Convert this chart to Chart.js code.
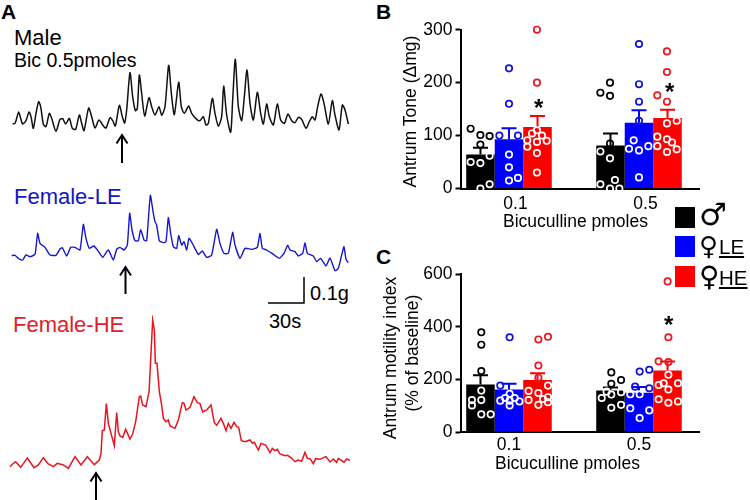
<!DOCTYPE html>
<html>
<head>
<meta charset="utf-8">
<script src="https://cdn.jsdelivr.net/npm/chart.js@4/dist/chart.umd.min.js"></script>
<style>
    body { margin: 0; background: #fff; font-family: "Liberation Sans", Arial, sans-serif; }
    #page { position: relative; width: 750px; height: 500px; overflow: hidden; }
    #page canvas, .box { position: absolute; }
    .t { position: absolute; line-height: 1; white-space: nowrap; color: #000; }
    .panel { font-size: 21px; font-weight: bold; }
    .trace { font-size: 22px; }
    .axis { font-size: 17.5px; }
    .star { font-size: 24px; font-weight: bold; }
    .sym { font-family: "DejaVu Sans"; }
    .group { font-size: 20.5px; text-decoration: underline; text-decoration-thickness: 1.5px; text-underline-offset: 2px; }
    svg { position: absolute; left: 0; top: 0; }
</style>
</head>
<body>
<div id="page">
    <div class="t panel" style="left:1px;top:1px">A</div>
    <div class="t panel" style="left:376px;top:1px">B</div>
    <div class="t panel" style="left:376px;top:246px">C</div>

    <div class="t trace" style="left:14px;top:27px">Male</div>
    <div class="t" style="left:14px;top:51px;font-size:19.5px">Bic 0.5pmoles</div>
    <div class="t trace" style="left:14px;top:186px;color:#1414c8">Female-LE</div>
    <div class="t trace" style="left:13px;top:314px;color:#e0202c">Female-HE</div>
    <div class="t" style="left:310px;top:283px;font-size:20px">0.1g</div>
    <div class="t" style="left:269px;top:311px;font-size:20px">30s</div>

    <canvas id="maleTrace" style="left:0;top:50px" width="370" height="90"></canvas>
    <canvas id="lowTrace" style="left:0;top:190px" width="370" height="87"></canvas>
    <canvas id="highTrace" style="left:0;top:315px" width="370" height="160"></canvas>

    <svg width="750" height="500" fill="none" stroke="#000" stroke-width="2">
        <path d="M122 135V163M116.5 143.5L122 135L127.5 143.5"/>
        <path d="M125.5 267V294M120 275.5L125.5 267L131 275.5"/>
        <path d="M96 473V500M90.5 481.5L96 473L101.5 481.5"/>
        <path d="M268 303H304V277" stroke-width="1.5"/>
    </svg>

    <canvas id="toneChart" style="left:400px;top:10px" width="305" height="210"></canvas>
    <canvas id="motilityChart" style="left:380px;top:255px" width="325" height="215"></canvas>

    <div class="t axis" style="left:503px;top:213px">Bicuculline pmoles</div>
    <div class="t axis" style="left:495px;top:455px">Bicuculline pmoles</div>

    <div class="t star" style="left:534px;top:96px">*</div>
    <div class="t star" style="left:665px;top:80px">*</div>
    <div class="t star" style="left:664px;top:313px">*</div>

    <div class="box" style="left:674.5px;top:207px;width:20.5px;height:20.5px;background:#000"></div>
    <div class="box" style="left:674.5px;top:236px;width:20.5px;height:20.5px;background:#00f"></div>
    <div class="box" style="left:674.5px;top:266px;width:20.5px;height:20.5px;background:#f00"></div>
    <div class="t sym" style="left:699px;top:199px;font-size:31px">♂</div>
    <div class="t sym" style="left:699px;top:233px;font-size:26px">♀</div>
    <div class="t sym" style="left:699px;top:263px;font-size:28px">♀</div>
    <div class="t group" style="left:719px;top:236.5px">LE</div>
    <div class="t group" style="left:719px;top:267.5px">HE</div>
</div>

<script>
// panel A, recorder traces (time and tension in arbitrary recording units)
const maleTime = [38,45,50,56,62,68,78,87,93,100,108,116,122,130,138,148,155,168,180,188,197,208,217,227,238,245,252,266,275,285,297,310,318,330,338,346,358,367,374,380,390,398,406,412,418,425,434,447,455,465,477,485,495,506,514,523,536,544,553,566,575,590,600,610,618,625,637,645,655,665,671,680,692,698,706,715,725,733,741,750,760,772,782,790,800,808,820,832,842,853,864,875,885,895,905,918,928,937,945,953,963,972,985,997,1005,1017,1027,1035,1045];
const maleTension = [28,30,45,64,45,28,38,64,50,15,60,95,80,28,20,60,45,6,42,44,28,45,15,12,55,30,8,76,50,16,40,22,16,47,38,22,84,50,31,70,182,110,68,75,175,120,52,107,80,55,80,54,80,204,120,56,153,80,60,82,60,42,38,50,25,30,105,60,22,50,142,55,3,100,222,80,38,110,190,90,40,123,60,28,88,50,25,88,40,30,58,38,32,48,42,15,35,50,40,80,118,90,28,98,55,10,85,70,28];

const lowTime = [35,45,58,68,78,90,105,113,120,135,150,168,180,187,200,212,225,240,250,258,268,282,298,308,325,340,350,360,372,382,389,396,405,415,422,432,440,451,460,465,470,478,490,498,505,512,520,530,536,545,552,560,567,578,595,607,620,635,650,660,672,685,698,705,720,735,755,772,780,787,800,820,838,852,863,870,885,895,908,915,922,940,950,962,978,990,1005,1015,1025,1032,1038,1045];
const lowTension = [53,54,43,40,55,50,57,120,90,78,55,54,73,77,52,78,78,70,147,105,75,82,62,48,70,40,72,78,70,85,180,130,98,98,132,100,98,234,180,155,145,98,92,95,167,120,80,75,113,85,95,70,105,88,57,67,48,55,132,90,60,60,123,85,45,75,72,78,120,75,70,57,45,60,84,70,65,52,60,92,60,52,35,45,22,46,8,15,55,80,42,32];

const highTime = [30,38,47,62,82,102,115,130,145,160,172,190,205,225,243,262,283,298,303,307,313,319,325,333,343,350,355,360,368,377,390,398,407,418,422,428,438,444,447,452,458,463,466,471,478,485,490,498,505,510,525,535,547,552,558,570,582,592,600,608,620,633,643,650,663,670,678,685,693,702,710,716,724,735,750,758,763,775,783,797,810,817,825,832,840,855,863,875,885,895,905,915,922,930,940,947,960,972,978,990,1000,1010,1015,1025,1032,1040,1050];
const highTension = [10,18,25,8,36,7,15,37,18,10,20,15,5,40,15,40,16,30,50,118,120,199,140,110,73,172,115,102,98,122,93,108,145,220,222,195,190,220,232,330,450,420,320,320,235,195,155,145,150,132,125,150,202,200,180,188,220,202,199,174,180,195,142,134,155,140,118,140,125,143,130,128,88,85,90,80,83,60,80,75,52,65,58,62,48,43,44,35,25,30,26,53,35,34,19,34,32,38,40,24,33,23,35,28,23,33,29];

// panels B and C
const doses = ['0.1', '0.5'];

const toneMale = [64, 81];
const toneLow = [93, 124];
const toneHigh = [116, 133];
const toneMaleErr = [13, 23];
const toneLowErr = [21, 24];
const toneHighErr = [21, 16];

const motilityMale = [181, 158];
const motilityLow = [162, 150];
const motilityHigh = [198, 234];
const motilityMaleErr = [35, 12];
const motilityLowErr = [22, 22];
const motilityHighErr = [26, 34];

// individual animals
const toneMaleA = [113,101,99,83,62,50,48,8,0];
const toneMaleB = [200,181,175,85,70,57,8,16,0,0];
const toneLowA = [227,160,100,100,64,40,15,20];
const toneLowB = [273,197,164,128,91,75,72,80,21];
const toneHighA = [300,200,110,104,100,91,88,90,79,67,30];
const toneHighB = [259,220,176,164,123,128,98,93,87,80,69,74];

const motilityMaleA = [379,332,232,158,122,122,102,68,68];
const motilityMaleB = [227,198,184,154,152,143,130,104,93];
const motilityLowA = [360,177,146,130,130,120,120,117,102];
const motilityLowB = [237,230,173,167,144,144,91,83,54];
const motilityHighA = [362,352,253,207,177,157,149,133,122,126,104,114];
const motilityHighB = [572,360,269,266,218,186,186,179,162,125,112,117];

// sideways spread of the dots, in group widths
const toneMaleSpreadA = [-0.295,-0.22,-0.149,-0.22,-0.149,-0.295,-0.22,-0.149,-0.22];
const toneMaleSpreadB = [-0.223,-0.297,-0.223,-0.223,-0.297,-0.223,-0.297,-0.185,-0.223,-0.151];
const toneLowSpreadA = [0,0,-0.074,0.069,0,0,0,0.069];
const toneLowSpreadB = [0,0,0,0,-0.041,-0.077,0,0.072,0];
const toneHighSpreadA = [0.215,0.215,0.215,0.177,0.254,0.141,0.215,0.29,0.141,0.215,0.215];
const toneHighSpreadB = [0.215,0.215,0.141,0.215,0.215,0.29,0.141,0.215,0.254,0.141,0.215,0.29];
const motilityMaleSpreadA = [-0.213,-0.213,-0.213,-0.213,-0.285,-0.213,-0.285,-0.213,-0.141];
const motilityMaleSpreadB = [-0.213,-0.138,-0.213,-0.249,-0.138,-0.213,-0.287,-0.138,-0.213];
const motilityLowSpreadA = [0.005,-0.067,0.005,-0.03,0.044,-0.067,0.005,0.08,0.005];
const motilityLowSpreadB = [0.079,0.005,-0.03,0.079,-0.067,0.005,-0.067,0.079,0.005];
const motilityHighSpreadA = [0.3,0.226,0.226,0.226,0.3,0.151,0.226,0.3,0.151,0.262,0.226,0.3];
const motilityHighSpreadB = [0.22,0.226,0.151,0.226,0.226,0.3,0.19,0.151,0.226,0.151,0.226,0.3];

const BLACK = '#000000';
const BAR_BLUE = '#0000ff';
const BAR_RED = '#ff0000';
const DOT_BLUE = '#1212d8';
const DOT_RED = '#e8181f';
const FONT = '"Liberation Sans", Arial, sans-serif';

Chart.defaults.animation = false;
Chart.defaults.responsive = false;
Chart.defaults.font.family = FONT;
Chart.defaults.plugins.legend.display = false;
Chart.defaults.plugins.tooltip.enabled = false;

const drawTrace = (id, time, tension, color, yMin, yMax, lineWidth, smooth) => {
    new Chart(document.getElementById(id), {
        type: 'line',
        data: {
            datasets: [{
                data: time.map((t, i) => ({ x: t, y: tension[i] })),
                borderColor: color,
                borderWidth: lineWidth,
                pointRadius: 0,
                tension: smooth
            }]
        },
        options: {
            layout: { padding: 0 },
            scales: {
                x: { type: 'linear', display: false, min: 0, max: 1110 },
                y: { display: false, min: yMin, max: yMax }
            }
        }
    });
};

drawTrace('maleTrace', maleTime, maleTension, '#111111', -20, 250, 1.5, 0.25);
drawTrace('lowTrace', lowTime, lowTension, '#1616d0', -11, 250, 1.4, 0.15);
drawTrace('highTrace', highTime, highTension, '#e8141e', -15, 465, 1.5, 0);

// error bars go up only, above the bar and under the dots
const errorBars = {
    id: 'errorBars',
    afterDatasetDraw(chart, args) {
        const dataset = args.meta.controller.getDataset();
        if (!dataset.errs) return;
        const { ctx, scales } = chart;
        ctx.save();
        ctx.strokeStyle = dataset.backgroundColor;
        ctx.lineWidth = 2;
        args.meta.data.forEach((bar, i) => {
            const top = scales.y.getPixelForValue(dataset.data[i].y + dataset.errs[i]);
            ctx.beginPath();
            ctx.moveTo(bar.x, bar.y);
            ctx.lineTo(bar.x, top);
            ctx.moveTo(bar.x - 7.5, top);
            ctx.lineTo(bar.x + 7.5, top);
            ctx.stroke();
        });
        ctx.restore();
    }
};

const barSet = (values, errs, color) => ({
    data: values.map((v, i) => ({ x: i, y: v })),
    errs,
    backgroundColor: color,
    categoryPercentage: 0.658,
    barPercentage: 1,
    order: 2
});

// dots on a bar turn white so they stay visible
const dotSet = (valuesA, spreadA, valuesB, spreadB, means, color) => ({
    type: 'scatter',
    data: valuesA.map((v, i) => ({ x: spreadA[i], y: v }))
        .concat(valuesB.map((v, i) => ({ x: 1 + spreadB[i], y: v }))),
    pointRadius: 3.2,
    pointBorderWidth: 1.7,
    pointBackgroundColor: 'transparent',
    pointBorderColor: (c) => (c.raw && c.raw.y < means[Math.round(c.raw.x)] ? '#ffffff' : color),
    clip: false,
    order: 1
});

const drawBars = (id, datasets, yMax, step, yTitle, yWidth, padding, xHeight, tickPadding, labelOffset) => {
    new Chart(document.getElementById(id), {
        type: 'bar',
        data: { datasets },
        plugins: [errorBars],
        options: {
            layout: { padding },
            scales: {
                x: {
                    type: 'linear',
                    offset: false,
                    min: -0.373,
                    max: 1.4615,
                    afterBuildTicks: (s) => { s.ticks = doses.map((d, i) => ({ value: i })); },
                    afterFit: (s) => { s.height = xHeight; },
                    grid: { drawOnChartArea: false, drawTicks: false, offset: false },
                    border: { color: BLACK, width: 2 },
                    ticks: {
                        color: BLACK,
                        font: { size: 17.5 },
                        padding: tickPadding,
                        labelOffset,
                        maxRotation: 0,
                        autoSkip: false,
                        callback: (v) => doses[v]
                    }
                },
                y: {
                    min: 0,
                    max: yMax,
                    afterFit: (s) => { s.width = yWidth; },
                    title: { display: true, text: yTitle, color: BLACK, font: { size: 17.5, lineHeight: 1.25 }, padding: 0 },
                    grid: { drawOnChartArea: false, color: BLACK, tickLength: 5, tickWidth: 2 },
                    border: { color: BLACK, width: 2 },
                    ticks: { color: BLACK, stepSize: step, font: { size: 17.5 }, padding: 3 }
                }
            }
        }
    });
};

// the trailing spaces nudge the rotated titles down a little
drawBars('toneChart', [
    barSet(toneMale, toneMaleErr, BLACK),
    barSet(toneLow, toneLowErr, BAR_BLUE),
    barSet(toneHigh, toneHighErr, BAR_RED),
    dotSet(toneMaleA, toneMaleSpreadA, toneMaleB, toneMaleSpreadB, toneMale, BLACK),
    dotSet(toneLowA, toneLowSpreadA, toneLowB, toneLowSpreadB, toneLow, DOT_BLUE),
    dotSet(toneHighA, toneHighSpreadA, toneHighB, toneHighSpreadB, toneHigh, DOT_RED)
], 300, 100, 'Antrum Tone (Δmg) ', 60.5, { top: 19.7, right: 6 }, 31.5, 5, 6.5);

drawBars('motilityChart', [
    barSet(motilityMale, motilityMaleErr, BLACK),
    barSet(motilityLow, motilityLowErr, BAR_BLUE),
    barSet(motilityHigh, motilityHighErr, BAR_RED),
    dotSet(motilityMaleA, motilityMaleSpreadA, motilityMaleB, motilityMaleSpreadB, motilityMale, BLACK),
    dotSet(motilityLowA, motilityLowSpreadA, motilityLowB, motilityLowSpreadB, motilityLow, DOT_BLUE),
    dotSet(motilityHighA, motilityHighSpreadA, motilityHighB, motilityHighSpreadB, motilityHigh, DOT_RED)
], 600, 200, ['Antrum motility index  ', '(% of baseline)'], 80.5, { top: 19, right: 6 }, 37.7, 2, 0);
</script>
</body>
</html>
